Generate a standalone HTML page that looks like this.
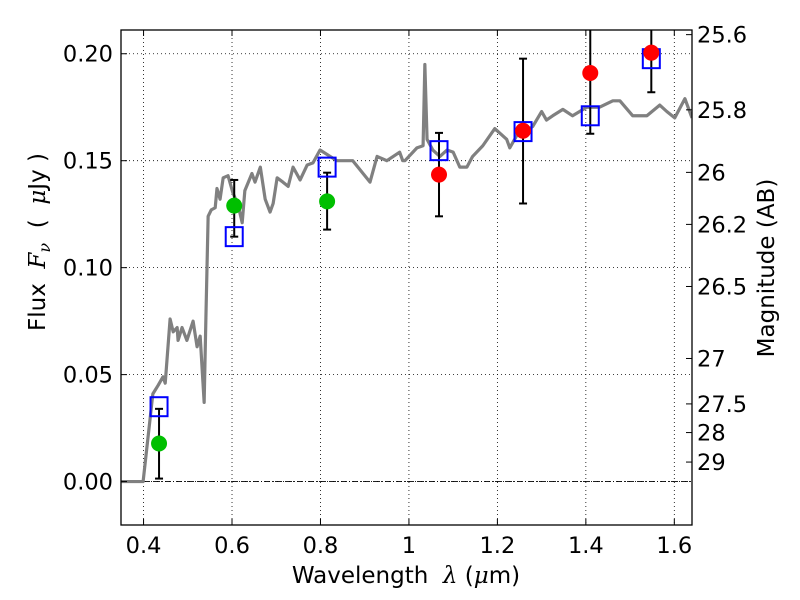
<!DOCTYPE html>
<html><head><meta charset="utf-8"><style>
html,body{margin:0;padding:0;background:#fff;}
svg{display:block;font-family:"DejaVu Sans","Liberation Sans",sans-serif;}
</style></head><body>
<svg id="chart" width="800" height="600" viewBox="0 0 800 600" xmlns="http://www.w3.org/2000/svg"></svg>
<script>
const specLam=[0.349,0.399,0.421,0.433,0.444,0.449,0.460,0.467,0.476,0.478,0.487,0.498,0.512,0.521,0.528,0.537,0.541,0.546,0.553,0.562,0.566,0.573,0.580,0.591,0.602,0.614,0.623,0.629,0.645,0.652,0.664,0.675,0.686,0.693,0.702,0.715,0.727,0.738,0.754,0.770,0.783,0.799,0.837,0.873,0.912,0.928,0.950,0.979,0.986,0.991,1.018,1.032,1.036,1.041,1.054,1.070,1.086,1.100,1.115,1.131,1.144,1.167,1.194,1.205,1.221,1.228,1.250,1.266,1.280,1.300,1.311,1.325,1.348,1.370,1.402,1.431,1.461,1.477,1.506,1.538,1.567,1.583,1.601,1.624,1.640];
const specFlux=[0,0,0.041,0.045,0.049,0.046,0.076,0.070,0.072,0.066,0.072,0.066,0.075,0.063,0.068,0.037,0.077,0.124,0.127,0.128,0.137,0.132,0.142,0.143,0.135,0.129,0.121,0.136,0.144,0.140,0.147,0.132,0.126,0.130,0.142,0.140,0.138,0.147,0.141,0.148,0.149,0.155,0.150,0.150,0.140,0.152,0.150,0.154,0.150,0.150,0.156,0.157,0.195,0.160,0.155,0.152,0.155,0.154,0.147,0.147,0.152,0.157,0.165,0.163,0.160,0.156,0.164,0.164,0.166,0.173,0.169,0.171,0.174,0.171,0.175,0.175,0.178,0.178,0.171,0.171,0.176,0.173,0.170,0.179,0.170];
const greenLam=[0.435,0.605,0.815];
const greenFlux=[0.0178,0.129,0.131];
const greenLo=[0.0014,0.1145,0.1178];
const greenHi=[0.034,0.141,0.1444];
const redLam=[1.068,1.258,1.41,1.548];
const redFlux=[0.1435,0.164,0.191,0.2005];
const redLo=[0.124,0.130,0.1626,0.182];
const redHi=[0.163,0.1977,0.24,0.23];
const modelLam=[0.435,0.605,0.815,1.068,1.258,1.41,1.548];
const modelFlux=[0.035,0.1145,0.147,0.1547,0.1636,0.171,0.1977];
const xTicks=[0.4,0.6,0.8,1.0,1.2,1.4,1.6];
const xTickLabels=["0.4","0.6","0.8","1","1.2","1.4","1.6"];
const yTicks=[0,0.05,0.10,0.15,0.20];
const yTickLabels=["0.00","0.05","0.10","0.15","0.20"];
const magTicks=[25.6,25.8,26,26.2,26.5,27,27.5,28,29];
const magTickLabels=["25.6","25.8","26","26.2","26.5","27","27.5","28","29"];

const L=121,R=692,T=30,B=525;
const xMin=0.349,xMax=1.640,yMin=-0.0203,yMax=0.2111;
const X=v=>L+(v-xMin)/(xMax-xMin)*(R-L);
const Y=v=>B-(v-yMin)/(yMax-yMin)*(B-T);
const svg=document.getElementById('chart');
const NS='http://www.w3.org/2000/svg';
function mk(tag,attrs,parent){const e=document.createElementNS(NS,tag);for(const k in attrs)e.setAttribute(k,attrs[k]);(parent||svg).appendChild(e);return e;}

const grid=mk('g',{});


xTicks.forEach(t=>{mk('line',{x1:X(t),x2:X(t),y1:T,y2:B,stroke:'#000','stroke-width':0.8,'stroke-dasharray':'1,3'},grid);});
yTicks.forEach(t=>{mk('line',{x1:L,x2:R,y1:Y(t),y2:Y(t),stroke:'#000','stroke-width':0.8,'stroke-dasharray':'1,3'},grid);});
const zl=mk('line',{x1:L,x2:R,y1:Y(0),y2:Y(0),stroke:'#000','stroke-width':0.8,'stroke-dasharray':'6,2,1,2'});



const clip=mk('clipPath',{id:'cp'});mk('rect',{x:L,y:T,width:R-L,height:B-T},clip);
const sp=mk('polyline',{points:specLam.map((l,i)=>X(l)+','+Y(specFlux[i])).join(' '),fill:'none',stroke:'#808080','stroke-width':3.2,'stroke-linejoin':'round','clip-path':'url(#cp)'});



function errs(lam,lo,hi,name){const g=mk('g',{'clip-path':'url(#cp)'});


lam.forEach((l,i)=>{const x=X(l);mk('line',{x1:x,x2:x,y1:Y(lo[i]),y2:Y(hi[i]),stroke:'#000','stroke-width':2},g);
mk('line',{x1:x-4,x2:x+4,y1:Y(lo[i]),y2:Y(lo[i]),stroke:'#000','stroke-width':2},g);
mk('line',{x1:x-4,x2:x+4,y1:Y(hi[i]),y2:Y(hi[i]),stroke:'#000','stroke-width':2},g);});}
errs(greenLam,greenLo,greenHi,'green-error-bars');
errs(redLam,redLo,redHi,'red-error-bars');
const mg=mk('g',{});


modelLam.forEach((l,i)=>{const r=mk('rect',{x:X(l)-8.5,y:Y(modelFlux[i])-9.5,width:17,height:19,fill:'none',stroke:'#0000ff','stroke-width':2},mg);

});
function pts(lam,fl,col,name){const g=mk('g',{});


lam.forEach((l,i)=>{const c=mk('circle',{cx:X(l),cy:Y(fl[i]),r:8,fill:col},g);

});}
pts(greenLam,greenFlux,'#00bf00','green-points');
pts(redLam,redFlux,'#ff0000','red-points');

const fr=mk('rect',{x:L,y:T,width:R-L,height:B-T,fill:'none',stroke:'#000','stroke-width':1.3});



const ax=mk('g',{'font-size':'22.5px',fill:'#000'});


xTicks.forEach((t,i)=>{const x=X(t);mk('line',{x1:x,x2:x,y1:B,y2:B-6,stroke:'#000'},ax);mk('line',{x1:x,x2:x,y1:T,y2:T+6,stroke:'#000'},ax);
const tx=mk('text',{x:x,y:B+28,'text-anchor':'middle'},ax);tx.textContent=xTickLabels[i];

});
yTicks.forEach((t,i)=>{const y=Y(t);mk('line',{x1:L,x2:L+6,y1:y,y2:y,stroke:'#000'},ax);
const tx=mk('text',{x:L-8,y:y+8,'text-anchor':'end'},ax);tx.textContent=yTickLabels[i];

});
magTicks.forEach((m,i)=>{const f=Math.pow(10,(23.9-m)/2.5);const y=Y(f);mk('line',{x1:R,x2:R-6,y1:y,y2:y,stroke:'#000'},ax);
const tx=mk('text',{x:R+5,y:y+8,'text-anchor':'start'},ax);tx.textContent=magTickLabels[i];

});
</script>
<svg style="position:absolute;left:0;top:0" width="800" height="600">
<text x="406" y="583" text-anchor="middle" font-size="23" font-family="DejaVu Sans, sans-serif" xml:space="preserve">Wavelength  <tspan font-family="DejaVu Serif, serif" font-style="italic">λ</tspan> (<tspan font-family="DejaVu Serif, serif" font-style="italic">μ</tspan>m)</text>
<text transform="translate(45,242) rotate(-90)" text-anchor="middle" font-size="23" font-family="DejaVu Sans, sans-serif" xml:space="preserve">Flux  <tspan font-family="DejaVu Serif, serif" font-style="italic">F<tspan font-size="16" dy="5">ν</tspan></tspan><tspan dy="-5">  (  </tspan><tspan font-family="DejaVu Serif, serif" font-style="italic">μ</tspan>Jy )</text>
<text transform="translate(774,268) rotate(-90)" text-anchor="middle" font-size="23" font-family="DejaVu Sans, sans-serif">Magnitude (AB)</text>
</svg>
</body></html>
